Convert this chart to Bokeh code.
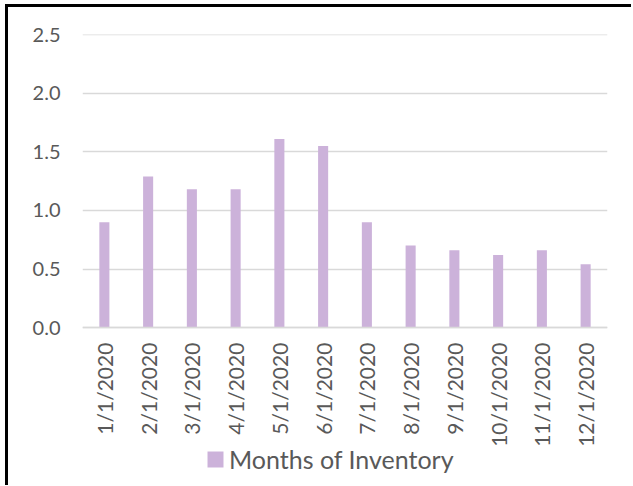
import math
from bokeh.plotting import figure
from bokeh.models import (ColumnDataSource, FactorRange, FixedTicker, Legend, LegendItem, Range1d,
                          NumeralTickFormatter, CategoricalAxis)
from bokeh.embed import file_html
from bokeh.resources import INLINE

dates = ["1/1/2020", "2/1/2020", "3/1/2020", "4/1/2020", "5/1/2020", "6/1/2020",
         "7/1/2020", "8/1/2020", "9/1/2020", "10/1/2020", "11/1/2020", "12/1/2020"]
months_of_inventory = [0.90, 1.29, 1.18, 1.18, 1.61, 1.55, 0.90, 0.70, 0.66, 0.62, 0.66, 0.54]
y_ticks = [0.0, 0.5, 1.0, 1.5, 2.0, 2.5]
series_name = "Months of Inventory"

FONT = "Lato"
TXT = "#595959"
GRID = "#D9D9D9"
BAR = "#CCB2DA"

# layout: value axis occupies 293px for 0..2.5, frame continues below zero for labels/legend
PLOT_PX = 293
BELOW_PX = 158
y_top = 2.502
y_bottom = -2.5 * BELOW_PX / PLOT_PX

source = ColumnDataSource(dict(date=dates, value=months_of_inventory))

p = figure(frame_width=525, frame_height=PLOT_PX + BELOW_PX,
           x_range=FactorRange(factors=dates, range_padding=0),
           y_range=Range1d(y_bottom, y_top), output_backend="svg", toolbar_location=None,
           min_border_left=74, min_border_right=24, min_border_top=27, min_border_bottom=0,
           x_axis_location=None)
p.styles = {"border-top": "3px solid black", "border-left": "3px solid black",
            "margin-left": "5px", "margin-top": "4px"}
p.outline_line_color = None
p.background_fill_color = "white"
p.border_fill_color = "white"

r = p.vbar(x="date", top="value", width=0.23, source=source, fill_color=BAR, line_color=None)

p.xgrid.grid_line_color = None
p.ygrid.ticker = FixedTicker(ticks=y_ticks)
p.ygrid.grid_line_color = GRID
p.ygrid.grid_line_width = 1.3
p.yaxis.ticker = FixedTicker(ticks=y_ticks)
p.yaxis.formatter = NumeralTickFormatter(format="0.0")
p.yaxis.axis_line_color = None
p.yaxis.major_tick_line_color = None
p.yaxis.minor_tick_line_color = None
p.yaxis.major_tick_out = 0
p.yaxis.major_label_standoff = 22
p.yaxis.major_label_text_font = FONT
p.yaxis.major_label_text_font_size = "20px"
p.yaxis.major_label_text_color = TXT

xaxis = CategoricalAxis(fixed_location=0)
xaxis.axis_line_color = GRID
xaxis.axis_line_width = 1.3
xaxis.major_tick_line_color = None
xaxis.minor_tick_line_color = None
xaxis.major_tick_out = 0
xaxis.major_tick_in = 0
xaxis.major_label_orientation = math.pi / 2
xaxis.major_label_standoff = 15
xaxis.major_label_text_font = FONT
xaxis.major_label_text_font_size = "21px"
xaxis.major_label_text_color = TXT
p.add_layout(xaxis, "below")

legend = Legend(items=[LegendItem(label=series_name, renderers=[r])], location=(123, 11),
                orientation="horizontal", glyph_width=20, glyph_height=20,
                label_text_font=FONT, label_text_font_size="25px", label_text_color=TXT,
                border_line_color=None, background_fill_alpha=0, padding=0, margin=0,
                label_standoff=4)
p.add_layout(legend, "center")

open("out.html", "w").write(file_html(p, INLINE))
